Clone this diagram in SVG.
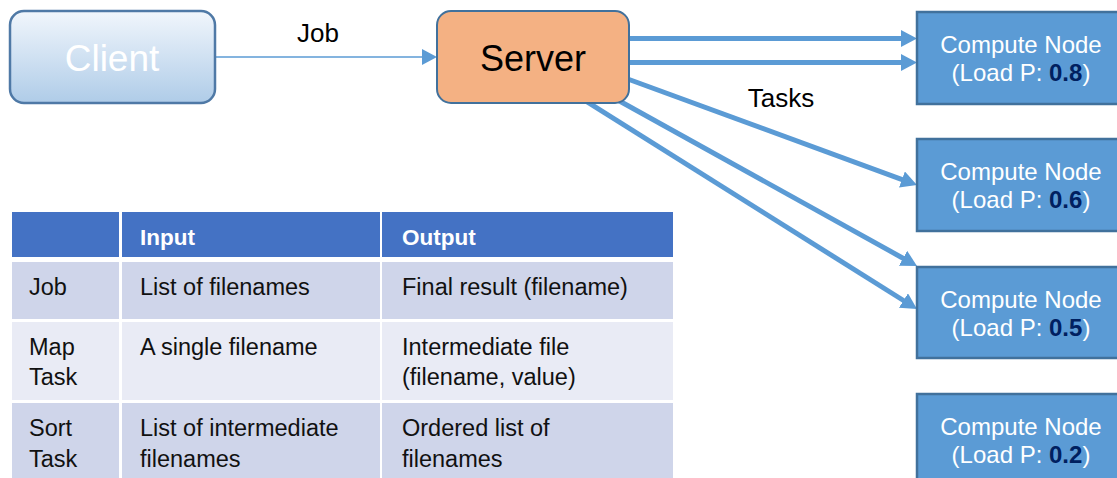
<svg xmlns="http://www.w3.org/2000/svg" width="1117" height="478" viewBox="0 0 1117 478">
<style>
.lbl{font-family:"Liberation Sans",Arial,sans-serif;fill:#000}
.cn rect{fill:#5b9bd5;stroke:#41719c;stroke-width:2.5}
.cn text{font-family:"Liberation Sans",Arial,sans-serif;font-size:24px;fill:#fff;text-anchor:middle}
.cn tspan.v{font-weight:bold;fill:#002060}
.task{stroke:#5b9bd5;stroke-width:5;fill:none;marker-end:url(#bigArrow)}
.tb{font-family:"Liberation Sans",Arial,sans-serif;font-size:23.5px;fill:#111}
.th{font-family:"Liberation Sans",Arial,sans-serif;font-size:22.5px;font-weight:bold;fill:#fff}
</style>
<defs>
<linearGradient id="clientGrad" x1="0" y1="0" x2="0" y2="1">
<stop offset="0" stop-color="#f1f6fc"/>
<stop offset="1" stop-color="#afcce8"/>
</linearGradient>
<marker id="bigArrow" markerUnits="userSpaceOnUse" markerWidth="18" markerHeight="18" refX="1" refY="8.5" orient="auto">
<path d="M0,0 L16,8.5 L0,17 z" fill="#5b9bd5"/>
</marker>
<marker id="smallArrow" markerUnits="userSpaceOnUse" markerWidth="17" markerHeight="17" refX="1" refY="8" orient="auto">
<path d="M0,0 L15,8 L0,16 z" fill="#5b9bd5"/>
</marker>
</defs>
<g id="connectors">
<line x1="215" y1="57" x2="423" y2="57" stroke="#5b9bd5" stroke-width="1.5" marker-end="url(#smallArrow)"/>
<line class="task" x1="625" y1="38.5" x2="902" y2="38.5"/>
<line class="task" x1="625" y1="62.5" x2="902" y2="62.5"/>
<line class="task" x1="625" y1="78" x2="902.9" y2="179.8"/>
<line class="task" x1="615" y1="98.5" x2="903.9" y2="258.7"/>
<line class="task" x1="582" y1="98.6" x2="904.3" y2="301"/>
<text class="lbl" x="318" y="42" font-size="26" text-anchor="middle">Job</text>
<text class="lbl" x="781" y="107" font-size="26" text-anchor="middle">Tasks</text>
</g>
<g id="client">
<rect x="10" y="11" width="205" height="92" rx="14" fill="url(#clientGrad)" stroke="#4f79a6" stroke-width="2.5"/>
<text x="112" y="71" font-family="'Liberation Sans',Arial,sans-serif" font-size="37" fill="#fff" text-anchor="middle">Client</text>
</g>
<g id="server">
<rect x="437" y="11" width="192" height="92" rx="14" fill="#f4b183" stroke="#41719c" stroke-width="2"/>
<text x="533" y="71" font-family="'Liberation Sans',Arial,sans-serif" font-size="36" fill="#000" text-anchor="middle">Server</text>
</g>
<g id="node1" class="cn">
<rect x="917" y="12" width="220" height="92"/>
<text x="1021" y="53">Compute Node</text>
<text x="1021" y="81">(Load P: <tspan class="v">0.8</tspan>)</text>
</g>
<g id="node2" class="cn">
<rect x="917" y="139" width="220" height="92"/>
<text x="1021" y="180">Compute Node</text>
<text x="1021" y="208">(Load P: <tspan class="v">0.6</tspan>)</text>
</g>
<g id="node3" class="cn">
<rect x="917" y="267" width="220" height="91"/>
<text x="1021" y="308">Compute Node</text>
<text x="1021" y="336">(Load P: <tspan class="v">0.5</tspan>)</text>
</g>
<g id="node4" class="cn">
<rect x="917" y="394" width="220" height="100"/>
<text x="1021" y="435">Compute Node</text>
<text x="1021" y="463">(Load P: <tspan class="v">0.2</tspan>)</text>
</g>
<g id="table">
<rect x="12" y="212" width="107" height="45" fill="#4472c4"/>
<rect x="122" y="212" width="258" height="45" fill="#4472c4"/>
<rect x="382" y="212" width="291" height="45" fill="#4472c4"/>
<rect x="12" y="262" width="107" height="57" fill="#cfd5ea"/>
<rect x="122" y="262" width="258" height="57" fill="#cfd5ea"/>
<rect x="382" y="262" width="291" height="57" fill="#cfd5ea"/>
<rect x="12" y="322" width="107" height="78" fill="#e9ebf5"/>
<rect x="122" y="322" width="258" height="78" fill="#e9ebf5"/>
<rect x="382" y="322" width="291" height="78" fill="#e9ebf5"/>
<rect x="12" y="403" width="107" height="80" fill="#cfd5ea"/>
<rect x="122" y="403" width="258" height="80" fill="#cfd5ea"/>
<rect x="382" y="403" width="291" height="80" fill="#cfd5ea"/>
<text class="th" x="140" y="245">Input</text>
<text class="th" x="402" y="245">Output</text>
<text class="tb" x="29" y="295">Job</text>
<text class="tb" x="140" y="295">List of filenames</text>
<text class="tb" x="402" y="295">Final result (filename)</text>
<text class="tb" x="29" y="355">Map</text>
<text class="tb" x="29" y="385">Task</text>
<text class="tb" x="140" y="355">A single filename</text>
<text class="tb" x="402" y="355">Intermediate file</text>
<text class="tb" x="402" y="385">(filename, value)</text>
<text class="tb" x="29" y="436">Sort</text>
<text class="tb" x="29" y="467">Task</text>
<text class="tb" x="140" y="436">List of intermediate</text>
<text class="tb" x="140" y="467">filenames</text>
<text class="tb" x="402" y="436">Ordered list of</text>
<text class="tb" x="402" y="467">filenames</text>
</g>
</svg>
